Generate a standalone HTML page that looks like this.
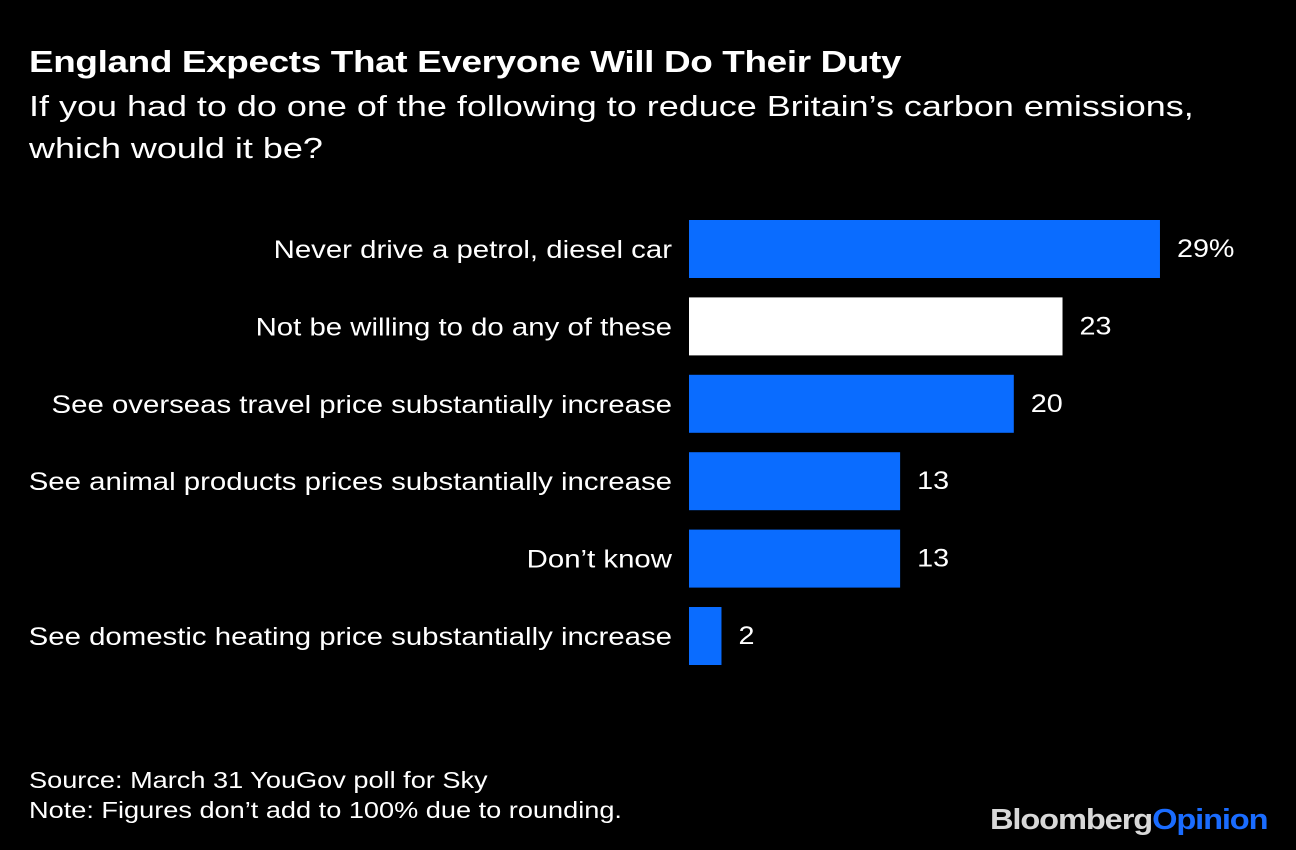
<!DOCTYPE html>
<html><head><meta charset="utf-8"><style>
body{margin:0;background:#000;width:1296px;height:850px;overflow:hidden;font-family:"Liberation Sans",Arial,sans-serif;color:#fff;position:relative}
.t{position:absolute;white-space:nowrap;transform-origin:0 0}
</style></head><body>
<div class="t" style="left:29px;top:44px;font-size:31px;font-weight:bold;letter-spacing:-0.3px;transform:scaleX(1.19)">England Expects That Everyone Will Do Their Duty</div>
<div class="t" style="left:29px;top:86px;font-size:29px;line-height:42px;transform:scaleX(1.24)">If you had to do one of the following to reduce Britain’s carbon emissions,<br>which would it be?</div>
<svg id="chart" width="1296" height="850" style="position:absolute;left:0;top:0"></svg>
<div class="t" style="left:29px;top:765px;font-size:23px;line-height:30px;transform:scaleX(1.18)">Source: March 31 YouGov poll for Sky<br>Note: Figures don’t add to 100% due to rounding.</div>
<div class="t" style="left:990px;top:804px;font-size:29px;font-weight:bold;letter-spacing:-1px;transform:scaleX(1.125)"><span style="color:#d8d8d8">Bloomberg</span><span style="color:#1a6cff">Opinion</span></div>
<script>
const categories=["Never drive a petrol, diesel car","Not be willing to do any of these","See overseas travel price substantially increase","See animal products prices substantially increase","Don’t know","See domestic heating price substantially increase"];
const values=[29,23,20,13,13,2];
const valueLabels=["29%","23","20","13","13","2"];
const highlight=[false,true,false,false,false,false];
const svg=document.getElementById('chart');
const NS='http://www.w3.org/2000/svg';
const x0=689,scale=16.24,y0=220,step=77.4,bh=58;
const xs=v=>x0+v*scale;
function stretch(el,k){const w=el.getComputedTextLength();el.setAttribute('textLength',w*k);el.setAttribute('lengthAdjust','spacingAndGlyphs');}
categories.forEach((c,i)=>{
  const y=y0+i*step;
  const r=document.createElementNS(NS,'rect');
  r.setAttribute('x',x0);r.setAttribute('y',y);r.setAttribute('width',xs(values[i])-x0);r.setAttribute('height',bh);
  r.setAttribute('fill',highlight[i]?'#ffffff':'#0a6cff');
  
  
  svg.appendChild(r);
  const l=document.createElementNS(NS,'text');
  l.setAttribute('x',672);l.setAttribute('y',y+bh/2+9);l.setAttribute('text-anchor','end');
  l.setAttribute('fill','#fff');l.setAttribute('font-size','25');l.setAttribute('font-family','Liberation Sans, sans-serif');
  l.textContent=c;
  
  
  svg.appendChild(l);
  stretch(l,1.175);
  const v=document.createElementNS(NS,'text');
  v.setAttribute('x',xs(values[i])+17);v.setAttribute('y',y+bh/2+8);
  v.setAttribute('fill','#fff');v.setAttribute('font-size','25');v.setAttribute('font-family','Liberation Sans, sans-serif');
  v.textContent=valueLabels[i];
  
  
  svg.appendChild(v);
  stretch(v,1.15);
});
</script>
</body></html>
